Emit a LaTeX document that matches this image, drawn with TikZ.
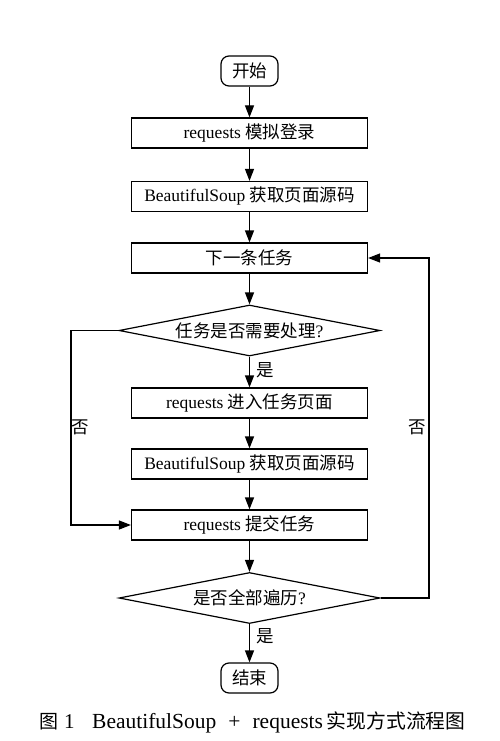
\documentclass[tikz,border=0pt]{standalone}
\usepackage{fontspec}
\setmainfont{Liberation Serif}
\newfontfamily\cjk{Noto Sans CJK SC}
\usetikzlibrary{shapes.geometric,arrows.meta}
\begin{document}
\begin{tikzpicture}[x=1pt,y=-1pt,
  every node/.style={font=\fontsize{17.5}{20}\selectfont, text=black},
  proc/.style={draw, line width=1.2pt, minimum width=236pt, minimum height=30pt, inner sep=0pt},
  term/.style={draw, line width=1.2pt, rounded corners=8pt, minimum width=57pt, minimum height=30pt, inner sep=0pt},
  decis/.style={draw, diamond, aspect=5.1, line width=1.2pt, minimum width=261pt, minimum height=51pt, inner sep=0pt},
  flow/.style={line width=1.2pt, -{Triangle[length=12pt,width=9pt]}},
  lbl/.style={inner sep=0pt},
  captxt/.style={inner sep=0pt, anchor=west}]
\useasboundingbox (0,0) rectangle (500,741);
\fill[white] (0,0) rectangle (500,741);

\node[term] (start) at (249.5,71) {\cjk 开始};
\node[proc] (login) at (249.5,133) {requests {\cjk 模拟登录}};
\node[proc] (src1) at (249.5,196.5) {BeautifulSoup {\cjk 获取页面源码}};
\node[proc] (next) at (249.5,258) {\cjk 下一条任务};
\node[decis] (dec1) at (249.5,330.5) {{\cjk 任务是否需要处理}?};
\node[proc] (enter) at (249.5,403) {requests {\cjk 进入任务页面}};
\node[proc] (src2) at (249.5,464) {BeautifulSoup {\cjk 获取页面源码}};
\node[proc] (submit) at (249.5,525) {requests {\cjk 提交任务}};
\node[decis] (dec2) at (249.5,598) {{\cjk 是否全部遍历}?};
\node[term] (end) at (249.5,678) {\cjk 结束};

\draw[flow] (start) -- (login);
\draw[flow] (login) -- (src1);
\draw[flow] (src1) -- (next);
\draw[flow] (next) -- (dec1);
\draw[flow] (dec1) -- (enter);
\draw[flow] (enter) -- (src2);
\draw[flow] (src2) -- (submit);
\draw[flow] (submit) -- (dec2);
\draw[flow] (dec2) -- (end);

\coordinate (rr) at (429,598);
\draw[flow] (dec2.east) -- (rr) |- (next.east);
\coordinate (ll) at (71,330.5);
\draw[flow] (dec1.west) -- (ll) |- (submit.west);

\node[lbl] (yes1) at (265,370) {\cjk 是};
\node[lbl] (yes2) at (265,636) {\cjk 是};
\node[lbl] (no1) at (80,427) {\cjk 否};
\node[lbl] (no2) at (417,427) {\cjk 否};

\node[captxt] (capA) at (39,722) {{\cjk\fontsize{19}{22}\selectfont 图}\hspace{6pt}{\fontsize{21}{24}\selectfont 1}};
\node[captxt] (capB) at (92,722) {\fontsize{21.5}{24}\selectfont BeautifulSoup\hspace{12pt}+\hspace{12pt}requests\hspace{4pt}{\cjk\fontsize{19.8}{22}\selectfont 实现方式流程图}};
\end{tikzpicture}
\end{document}
